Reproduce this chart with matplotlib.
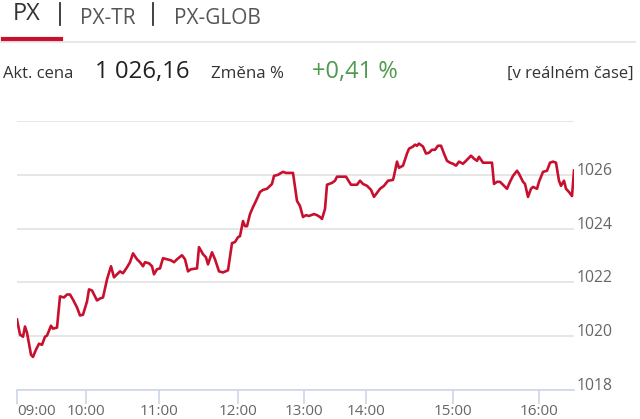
import matplotlib.pyplot as plt
import matplotlib.lines as mlines

plt.rcParams['font.family'] = ['Open Sans', 'DejaVu Sans']

# position along the (ordinal) time axis and index value
slot = [0, 3, 6, 8, 10, 14, 16, 19, 22, 25, 28, 30, 34, 36, 40, 43, 47, 50, 53, 56,
        60, 63, 66, 70, 72, 75, 78, 80, 83, 86, 90, 94, 97, 100, 103, 106, 110, 113, 116, 120,
        123, 126, 128, 132, 135, 137, 140, 143, 146, 150, 154, 157, 160, 165, 168, 171, 174, 180, 182, 186,
        189, 191, 195, 198, 202, 206, 211, 215, 218, 221, 223, 226, 228, 230, 233, 236, 239, 243, 246, 250,
        255, 257, 261, 266, 269, 276, 280, 283, 286, 289, 292, 297, 300, 303, 305, 308, 310, 315, 318, 320,
        325, 329, 334, 338, 340, 343, 346, 350, 354, 357, 360, 363, 367, 371, 376, 377, 380, 382, 386, 390,
        392, 396, 398, 400, 402, 406, 409, 412, 415, 418, 421, 424, 427, 430, 433, 436, 439, 442, 446, 449,
        454, 457, 460, 462, 466, 470, 475, 477, 480, 483, 487, 490, 493, 496, 500, 502, 506, 508, 511, 514,
        516, 520, 522, 526, 530, 533, 536, 539, 542, 544, 547, 549, 552, 555, 557]
px = [1020.62, 1020.06, 1019.98, 1020.36, 1020.13, 1019.31, 1019.23, 1019.50, 1019.72, 1019.68,
      1019.98, 1020.02, 1020.39, 1020.28, 1020.32, 1021.48, 1021.44, 1021.55, 1021.55, 1021.36,
      1021.07, 1020.77, 1020.80, 1021.29, 1021.74, 1021.70, 1021.48, 1021.33, 1021.40, 1021.44,
      1022.11, 1022.60, 1022.19, 1022.30, 1022.41, 1022.34, 1022.56, 1022.75, 1023.08, 1022.86,
      1022.75, 1022.60, 1022.75, 1022.71, 1022.60, 1022.30, 1022.49, 1022.52, 1022.90, 1022.86,
      1022.82, 1022.75, 1022.86, 1023.01, 1022.86, 1022.41, 1022.49, 1022.52, 1023.31, 1023.05,
      1022.93, 1022.67, 1023.12, 1022.86, 1022.41, 1022.37, 1022.45, 1023.46, 1023.50, 1023.68,
      1023.72, 1024.28, 1024.09, 1024.09, 1024.54, 1024.80, 1025.03, 1025.36, 1025.44, 1025.48,
      1025.66, 1025.96, 1026.00, 1026.11, 1026.07, 1026.07, 1025.03, 1024.84, 1024.43, 1024.50,
      1024.47, 1024.54, 1024.50, 1024.43, 1024.36, 1024.73, 1025.63, 1025.70, 1025.78, 1025.93,
      1025.93, 1025.93, 1025.63, 1025.63, 1025.63, 1025.78, 1025.66, 1025.59, 1025.44, 1025.18,
      1025.33, 1025.48, 1025.59, 1025.78, 1025.81, 1025.96, 1026.49, 1026.26, 1026.34, 1026.79,
      1026.97, 1027.05, 1027.12, 1027.08, 1027.16, 1027.05, 1026.79, 1026.82, 1026.93, 1026.93,
      1027.08, 1027.08, 1026.79, 1026.52, 1026.45, 1026.41, 1026.34, 1026.49, 1026.41, 1026.52,
      1026.71, 1026.60, 1026.52, 1026.67, 1026.45, 1026.45, 1026.45, 1025.66, 1025.74, 1025.74,
      1025.59, 1025.48, 1025.74, 1025.96, 1026.15, 1026.04, 1025.74, 1025.66, 1025.18, 1025.48,
      1025.55, 1025.48, 1025.74, 1026.11, 1026.15, 1026.45, 1026.49, 1026.45, 1025.78, 1025.59,
      1025.78, 1025.48, 1025.36, 1025.21, 1026.16]

hour_slots = [0, 69, 142, 221, 287, 349, 436, 522]
hour_labels = ['09:00', '10:00', '11:00', '12:00', '13:00', '14:00', '15:00', '16:00']
y_ticks = [1018, 1020, 1022, 1024, 1026, 1028]
y_labels = ['1018', '1020', '1022', '1024', '1026', '']

tabs = ['PX', 'PX-TR', 'PX-GLOB']
price = '1 026,16'
change = '+0,41 %'

W, H = 640, 419
fig = plt.figure(figsize=(W / 100, H / 100), dpi=100)
ax = fig.add_axes([17 / W, 1 - 390 / H, 557 / W, 269 / H])

ax.plot(slot, px, color='#c8102e', lw=1.9, solid_joinstyle='round')
ax.set_xlim(0, 557)
ax.set_ylim(1018, 1028)

for s in ['top', 'left', 'right']:
    ax.spines[s].set_visible(False)
ax.spines['bottom'].set_color('#ccd6eb')
ax.spines['bottom'].set_linewidth(1.2)

ax.set_yticks(y_ticks)
ax.set_yticklabels(y_labels)
ax.yaxis.tick_right()
ax.tick_params(axis='y', length=0, pad=2, labelsize=11.3, labelcolor='#666666')
for lab in ax.get_yticklabels():
    lab.set_va('baseline')
ax.grid(axis='y', color='#e6e6e6', lw=1.4)
ax.set_axisbelow(True)

ax.set_xticks(hour_slots)
ax.set_xticklabels(hour_labels)
ax.tick_params(axis='x', length=10, width=1.2, color='#ccd6eb', pad=0,
               labelsize=11, labelcolor='#666666')
ax.get_xticklabels()[0].set_ha('left')

# header tabs
fig.text(13 / W, 1 - 14 / H, tabs[0], fontsize=17, color='#333333', va='center')
fig.text(80 / W, 1 - 18 / H, tabs[1], fontsize=15, color='#555555', va='center')
fig.text(174 / W, 1 - 18 / H, tabs[2], fontsize=15, color='#555555', va='center')
for xs in [60, 153]:
    fig.add_artist(mlines.Line2D([xs / W, xs / W], [1 - 3 / H, 1 - 25 / H],
                                 color='#333333', lw=1.3))
fig.add_artist(mlines.Line2D([0, 635 / W], [1 - 42 / H, 1 - 42 / H], color='#e8e8e8', lw=1.5))
fig.add_artist(mlines.Line2D([3 / W, 61 / W], [1 - 39 / H, 1 - 39 / H], color='#c8102e', lw=3))

# price row
fig.text(3 / W, 1 - 74 / H, 'Akt. cena', fontsize=12, color='#333333', va='center')
fig.text(95 / W, 1 - 72 / H, price, fontsize=17.3, color='#222222', va='center')
fig.text(211 / W, 1 - 74 / H, 'Změna %', fontsize=12.2, color='#333333', va='center')
fig.text(312 / W, 1 - 72 / H, change, fontsize=17, color='#4e9a4e', va='center')
fig.text(634 / W, 1 - 74 / H, '[v reálném čase]', fontsize=12, color='#333333',
         va='center', ha='right')

fig.savefig('out.png', dpi=100)
